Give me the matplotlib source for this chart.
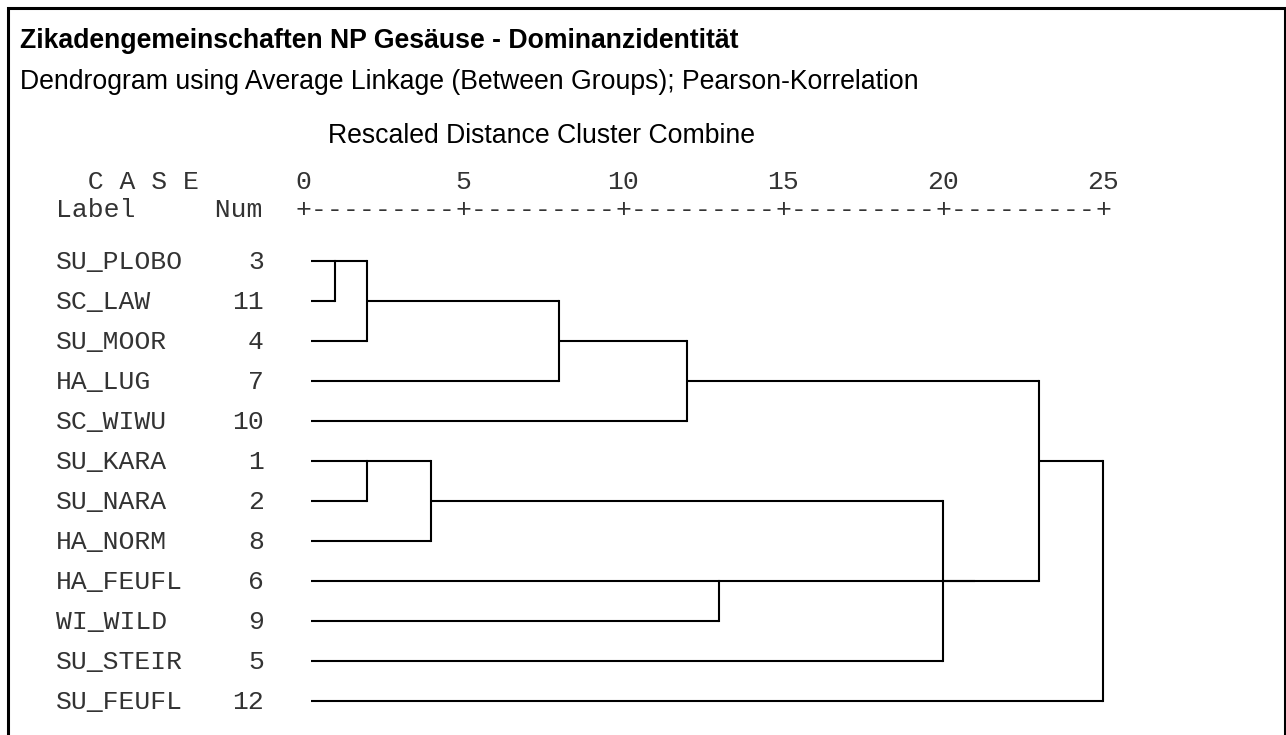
import numpy as np
import matplotlib
matplotlib.use("Agg")
import matplotlib.pyplot as plt

# cases in the order they appear in the dendrogram
case_labels = ["SU_PLOBO", "SC_LAW", "SU_MOOR", "HA_LUG", "SC_WIWU", "SU_KARA",
               "SU_NARA", "HA_NORM", "HA_FEUFL", "WI_WILD", "SU_STEIR", "SU_FEUFL"]
case_nums = [3, 11, 4, 7, 10, 1, 2, 8, 6, 9, 5, 12]

# merges: (child a, child b, rescaled distance); leaves are 0..11, new clusters 12..
merges = [
    (0, 1, 1),
    (12, 2, 2),
    (5, 6, 2),
    (14, 7, 4),
    (13, 3, 8),
    (16, 4, 12),
    (8, 9, 13),
    (15, 10, 20),
    (19, 18, 21),
    (17, 20, 23),
    (21, 11, 25),
]
scale_ticks = [0, 5, 10, 15, 20, 25]

W, H = 1286, 735
MONO = "Liberation Mono"
SANS = "Liberation Sans"
mono_col = "#333333"
sans_size = 19.2
mono_size = 19


def fx(px):
    return px / W


def fy(py):
    return 1 - py / H


fig = plt.figure(figsize=(W / 100, H / 100), dpi=100)
ax = fig.add_axes([0, 0, 1, 1])
# 0 on the scale at x=303 px, 32 px per unit; rows 40 px apart starting at y=261 px
ax.set_xlim(-303 / 32, (W - 303) / 32)
ax.set_ylim((H - 261) / 40, -261 / 40)
ax.axis("off")

# frame
fig.patches.append(plt.Rectangle((fx(7.5), fy(H + 20)), fx(1284.5 - 7.5), (H + 20 - 7.5) / H,
                                 transform=fig.transFigure, fill=False,
                                 edgecolor="black", linewidth=2.2))

# header texts
fig.text(fx(20), fy(48), "Zikadengemeinschaften NP Gesäuse - Dominanzidentität",
         family=SANS, fontsize=sans_size, fontweight="bold", va="baseline")
fig.text(fx(20), fy(89), "Dendrogram using Average Linkage (Between Groups); Pearson-Korrelation",
         family=SANS, fontsize=sans_size, va="baseline")
fig.text(fx(541), fy(143), "Rescaled Distance Cluster Combine",
         family=SANS, fontsize=sans_size, va="baseline", ha="center")

fig.text(fx(56), fy(189), "  C A S E", family=MONO, fontsize=mono_size, color=mono_col, va="baseline")
fig.text(fx(56), fy(217), "Label     Num", family=MONO, fontsize=mono_size, color=mono_col, va="baseline")

label_row = -(261 - 189) / 40
ruler_row = -(261 - 217) / 40
for t in scale_ticks:
    ax.text(t, label_row, str(t), family=MONO, fontsize=mono_size, color=mono_col,
            ha="center", va="baseline")
for i in range(2 * scale_ticks[-1] + 1):
    ch = "+" if i % 10 == 0 else "-"
    ax.text(i * 0.5, ruler_row, ch, family=MONO, fontsize=mono_size, color=mono_col,
            ha="center", va="baseline")

# case labels
n = len(case_labels)
for r, (lab, num) in enumerate(zip(case_labels, case_nums)):
    ax.text(-7.72, r + 0.2, lab, family=MONO, fontsize=mono_size, color=mono_col, va="baseline")
    ax.text(-1.22, r + 0.2, str(num), family=MONO, fontsize=mono_size, color=mono_col,
            va="baseline", ha="right")

# dendrogram
leaf_start = 0.25
row = {i: i for i in range(n)}
height = {i: leaf_start for i in range(n)}
lw = 1.5
for k, (a, b, d) in enumerate(merges):
    node = n + k
    for c in (a, b):
        ax.plot([height[c], d], [row[c], row[c]], color="black", lw=lw,
                solid_capstyle="butt")
    ax.plot([d, d], [row[a], row[b]], color="black", lw=lw, solid_capstyle="projecting")
    row[node] = int(np.floor((row[a] + row[b]) / 2))
    height[node] = d

fig.savefig("out.png", dpi=100)
